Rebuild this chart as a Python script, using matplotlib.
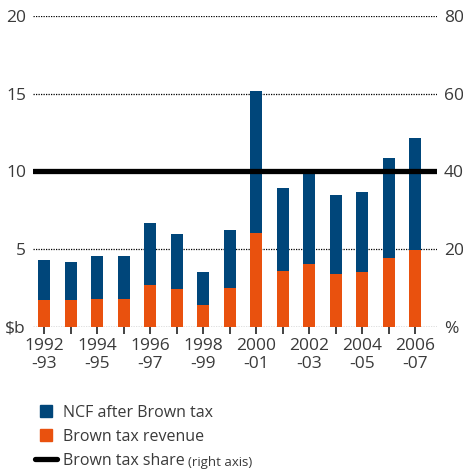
import matplotlib.pyplot as plt
from matplotlib.lines import Line2D

plt.rcParams['font.family'] = ['Open Sans', 'DejaVu Sans']

years = ['1992\n-93', '1993\n-94', '1994\n-95', '1995\n-96', '1996\n-97', '1997\n-98',
         '1998\n-99', '1999\n-00', '2000\n-01', '2001\n-02', '2002\n-03', '2003\n-04',
         '2004\n-05', '2005\n-06', '2006\n-07']
# total = NCF before tax ($b), revenue = Brown tax revenue ($b)
total = [4.32, 4.19, 4.57, 4.57, 6.68, 5.98, 3.49, 6.23, 15.16, 8.92, 10.0, 8.46, 8.65, 10.84, 12.16]
revenue = [1.70, 1.70, 1.77, 1.77, 2.66, 2.40, 1.38, 2.47, 6.04, 3.57, 4.02, 3.36, 3.51, 4.40, 4.91]
ncf_after = [t - r for t, r in zip(total, revenue)]
share = 40  # Brown tax share, %, right axis

blue = '#00467A'
orange = '#E9510E'
grey = '#3a3a3a'

fig = plt.figure(figsize=(4.64, 4.71), dpi=100)
ax = fig.add_axes([0.071, 0.3064, 0.871, 0.6596])

x = list(range(len(years)))
ax.bar(x, revenue, width=0.45, color=orange, zorder=3)
ax.bar(x, ncf_after, bottom=revenue, width=0.45, color=blue, zorder=3)

ax.set_xlim(-0.42, 14.83)
ax.set_ylim(0, 20)
ax.set_yticks([0, 5, 10, 15, 20])
ax.set_yticklabels(['$b', '5', '10', '15', '20'])
for v in [0, 5, 10, 15, 20]:
    ax.axhline(v, color='black', lw=0.9, ls=(0, (1, 1)), zorder=1)

ax.set_xticks(x)
ax.set_xticklabels([y if i % 2 == 0 else '' for i, y in enumerate(years)])
ax.tick_params(axis='x', length=5, width=1.2, color='#222222', labelsize=12.5,
               labelcolor=grey, pad=3)
ax.tick_params(axis='y', length=0, labelsize=12.5, labelcolor=grey, pad=5)
for s in ax.spines.values():
    s.set_visible(False)

ax2 = ax.twinx()
ax2.set_ylim(0, 80)
ax2.set_yticks([0, 20, 40, 60, 80])
ax2.set_yticklabels(['%', '20', '40', '60', '80'])
ax2.tick_params(axis='y', length=0, labelsize=12.5, labelcolor=grey, pad=5)
for s in ax2.spines.values():
    s.set_visible(False)
ax2.axhline(share, color='black', lw=3.8, solid_capstyle='round', zorder=4)

handles = [Line2D([], [], ls='none', marker='s', markersize=8.6, color=blue),
           Line2D([], [], ls='none', marker='s', markersize=8.6, color=orange),
           Line2D([], [], color='black', lw=3.8, solid_capstyle='round')]
labels = ['NCF after Brown tax', 'Brown tax revenue', 'Brown tax share']
leg = fig.legend(handles, labels, loc='center left', bbox_to_anchor=(0.0754, 0.072),
                 frameon=False, fontsize=11.5, handlelength=1.35, handleheight=0.8,
                 handletextpad=0.4, labelspacing=0.5, borderpad=0, borderaxespad=0)
for t in leg.get_texts():
    t.set_color(grey)

fig.canvas.draw()
bb = leg.get_texts()[2].get_window_extent()
fx, fy = fig.transFigure.inverted().transform((bb.x1, bb.y0))
fig.text(fx + 0.008, fy + 0.001, '(right axis)', fontsize=9.5, color=grey, va='bottom')

fig.savefig('out.png', dpi=100)
